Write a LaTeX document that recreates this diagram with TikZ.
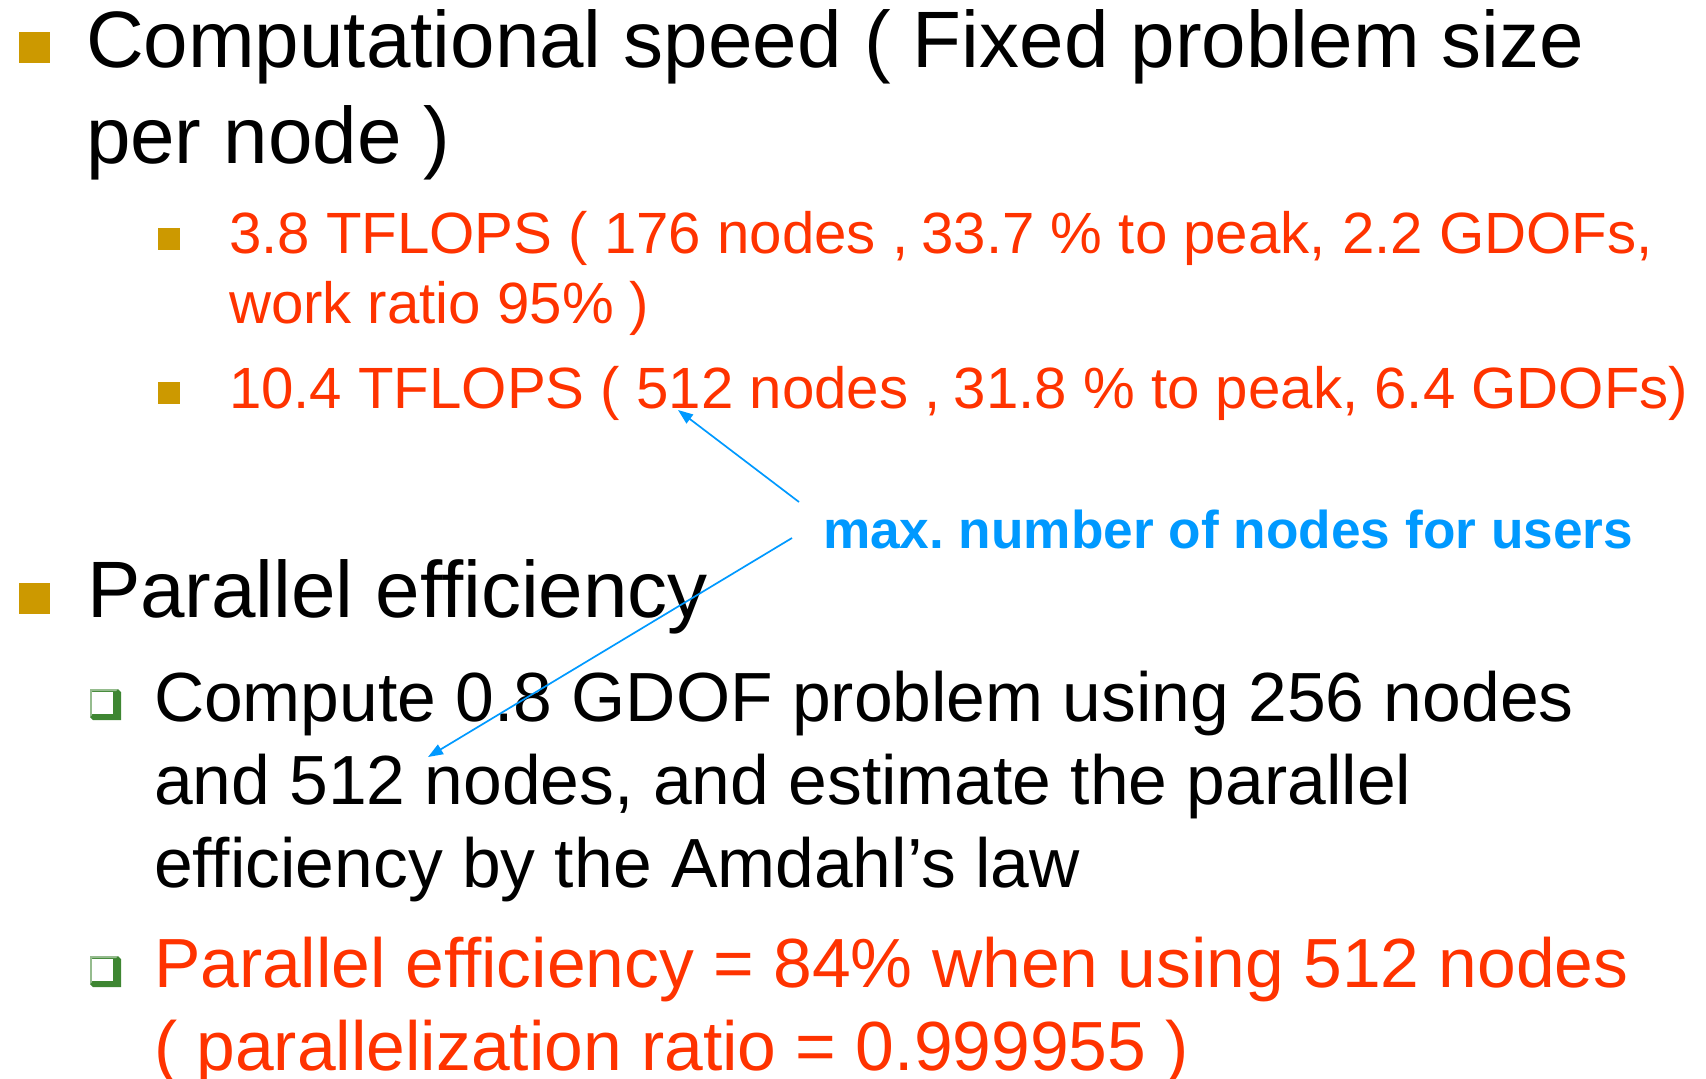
\documentclass[tikz,border=0pt]{standalone}
\usepackage{fontspec}
\setmainfont{Liberation Sans}
\usetikzlibrary{arrows.meta}
\frenchspacing
\definecolor{txtred}{HTML}{FF3300}
\definecolor{noteblue}{HTML}{0099FF}
\definecolor{bulgold}{HTML}{CC9900}
\definecolor{bulgreen}{HTML}{3E8632}
\tikzset{
  txt/.style={anchor=base west, inner sep=0pt, outer sep=0pt},
  big/.style={txt, font=\fontsize{80}{96}\selectfont},
  mid/.style={txt, font=\fontsize{69.6}{84}\selectfont},
  small/.style={txt, font=\fontsize{58.2}{70}\selectfont, text=txtred},
  note/.style={txt, font=\fontsize{53.2}{64}\selectfont\bfseries, text=noteblue},
  pointer/.style={draw=noteblue, line width=1.7pt,
    -{Triangle[length=15pt,width=11pt]}},
}
% square bullet, top-left corner and size given
\newcommand{\goldbullet}[3]{\fill[bulgold] (#1,#2) rectangle ++(#3,#3);}
% outlined box bullet with a raised edge
\newcommand{\boxbullet}[2]{%
  \fill[bulgreen] (#1,#2) -- ++(28,0) -- ++(3,3) -- ++(0,28) -- ++(-28,0) -- ++(-3,-3) -- cycle;
  \fill[bulgreen!55!white] (#1,#2) -- ++(28,0) -- ++(-2,2) -- ++(-24,0) -- ++(0,24) -- ++(-2,2) -- cycle;
  \fill[white] (#1+2,#2+3) rectangle (#1+23,#2+25);}
\begin{document}
\begin{tikzpicture}[x=1pt,y=-1pt]
\useasboundingbox (0,0) rectangle (1706,1079);

% first level: computational speed
\goldbullet{19}{32}{31}
\node[big] (cs1) at (86,67) {Computational speed ( Fixed problem size};
\node[big] (cs2) at (86,163) {per node )};

\goldbullet{158}{228}{22}
\node[small] (r1a) at (229,253) {3.8 TFLOPS ( 176 nodes ,\hspace{-0.05em} 33.7 \% to peak, 2.2 GDOFs,};
\node[small] (r1b) at (229,323) {work ratio 95\% )};
\goldbullet{158}{382}{22}
\node[small] (r2) at (229,408) {10.4 TFLOPS ( 512 nodes ,\hspace{-0.05em} 31.8 \% to peak, 6.4 GDOFs)};

% annotation
\node[note] (lbl) at (823,548) {max. number of nodes for users};

% first level: parallel efficiency
\goldbullet{19}{583}{31}
\node[big] (pe) at (87,617) {Parallel efficiency};

\boxbullet{90}{689}
\node[mid] (c1) at (154,721) {Compute 0.8 GDOF problem using 256 nodes};
\node[mid] (c2) at (154,804) {and 512 nodes, and estimate the parallel};
\node[mid] (c3) at (154,887) {efficiency by the Amdahl’s law};

\boxbullet{90}{956}
\node[mid, text=txtred] (p1) at (154,987) {Parallel efficiency = 84\% when using 512 nodes};
\node[mid, text=txtred] (p2) at (154,1070) {( parallelization ratio = 0.999955 )};

% pointers from the annotation
\coordinate (tipA) at (678,410);
\coordinate (tipB) at (428,757);
\draw[pointer] ([shift={(-24,-46)}]lbl.base west) -- (tipA);
\draw[pointer] ([shift={(-31,-10)}]lbl.base west) -- (tipB);
\end{tikzpicture}
\end{document}
